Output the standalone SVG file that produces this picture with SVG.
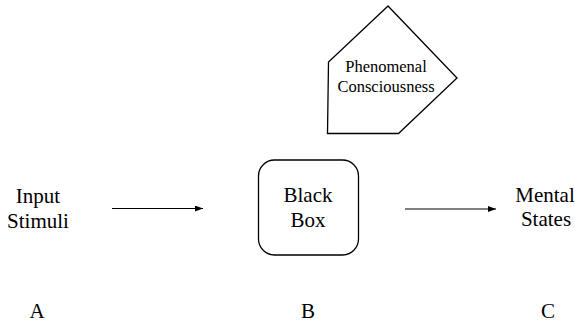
<svg xmlns="http://www.w3.org/2000/svg" width="575" height="323" viewBox="0 0 575 323">
<defs>
<marker id="ah" markerWidth="8" markerHeight="6" refX="8" refY="3" orient="auto" markerUnits="userSpaceOnUse">
<path d="M0,0 L8,3 L0,6 Z" fill="#000"/>
</marker>
<style>
.shape{fill:#fff;stroke:#000;stroke-width:1.3}
.edge{stroke:#000;stroke-width:1.2;fill:none}
</style>
</defs>
<rect width="575" height="323" fill="#fff"/>
<g font-family="Liberation Serif, DejaVu Serif, Times New Roman, serif" font-size="21" fill="#000" text-anchor="middle">
<g id="phenomenal">
<polygon class="shape" points="388,6 328.5,62 327.5,133.5 398.5,133.5 457,78"/>
<text font-size="16.5" x="386" y="72">Phenomenal</text>
<text font-size="16.5" x="386" y="92">Consciousness</text>
</g>
<g id="input">
<text x="38" y="203">Input</text>
<text x="38" y="228">Stimuli</text>
</g>
<g id="blackbox">
<rect class="shape" x="258.5" y="160" width="100" height="95" rx="16"/>
<text x="308" y="201.5">Black</text>
<text x="308" y="226.5">Box</text>
</g>
<g id="mental">
<text x="545" y="201.5">Mental</text>
<text x="546" y="226">States</text>
</g>
<g id="labels">
<text x="37" y="318">A</text>
<text x="308" y="318">B</text>
<text x="548" y="318">C</text>
</g>
</g>
<g id="connectors">
<line class="edge" x1="112" y1="208.5" x2="203" y2="208.5" marker-end="url(#ah)"/>
<line class="edge" x1="405" y1="209" x2="496" y2="209" marker-end="url(#ah)"/>
</g>
</svg>
